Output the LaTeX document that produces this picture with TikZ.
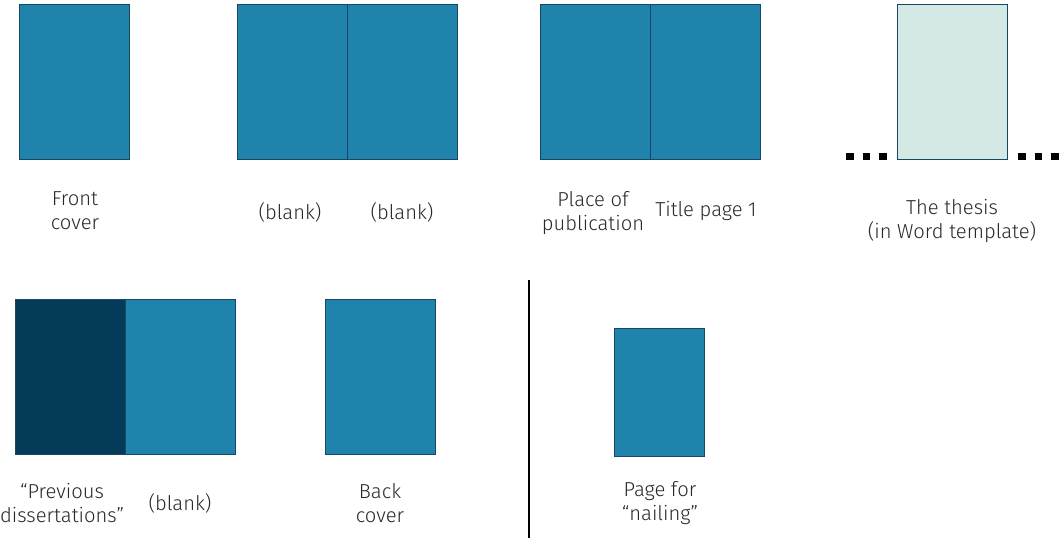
\documentclass[tikz,border=0pt]{standalone}
\usepackage{fontspec}
\setmainfont{Fira Sans Light}
\usetikzlibrary{positioning}
\definecolor{pageblue}{RGB}{31,131,171}
\definecolor{pagedark}{RGB}{3,59,88}
\definecolor{pageedge}{RGB}{22,72,100}
\definecolor{thesisfill}{RGB}{212,233,227}
\definecolor{labelgray}{RGB}{40,40,40}
\tikzset{
	page/.style={rectangle, draw=pageedge, fill=pageblue, line width=0.6pt,
		minimum width=2.2cm, minimum height=3.1cm, inner sep=0pt, anchor=north west},
	lbl/.style={align=center, font=\fontsize{11.5}{13.8}\selectfont, text=labelgray},
	dotrow/.style={line width=4.3pt, dash pattern=on 4.3pt off 5.2pt, black},
}
\begin{document}
\begin{tikzpicture}[x=0.02cm,y=-0.02cm]
	\useasboundingbox (0,0) rectangle (1061,538);
	% first row
	\node[page] (front) at(19,4){};
	\node[page] (blankA) at(237,4){};
	\node[page] (blankB) at(347,4){};
	\node[page] (place) at(540,4){};
	\node[page] (title) at(650,4){};
	\node[page,fill=thesisfill] (thesis) at(897,4){};
	\coordinate (dotsL) at(846,156.5);
	\coordinate (dotsR) at(1018,156.5);
	\draw[dotrow] (dotsL) -- ++(42,0);
	\draw[dotrow] (dotsR) -- ++(42,0);
	\node[lbl] (frontlbl) at(75,211){Front\\cover};
	\node[lbl] (blankAlbl) at(290,212){(blank)};
	\node[lbl] (blankBlbl) at(402,212){(blank)};
	\node[lbl] (placelbl) at(593,213){Place of\\publication};
	\node[lbl] (titlelbl) at(706,211){Title page 1};
	\node[lbl] (thesislbl) at(952,221){The thesis\\(in Word template)};
	% second row
	\node[page,fill=pagedark] (prev) at(15,299){};
	\node[page] (blankC) at(125,299){};
	\node[page] (back) at(325,299){};
	\node[page,minimum width=1.8cm,minimum height=2.56cm] (nail) at(614,328){};
	\coordinate (divtop) at(529,280);
	\coordinate (divbot) at(529,538);
	\draw[line width=1.4pt] (divtop) -- (divbot);
	\node[lbl] (prevlbl) at(62,503){“Previous\\dissertations”};
	\node[lbl] (blankClbl) at(180,503){(blank)};
	\node[lbl] (backlbl) at(380,503){Back\\cover};
	\node[lbl] (naillbl) at(660,503){Page for\\“nailing”};
\end{tikzpicture}
\end{document}
